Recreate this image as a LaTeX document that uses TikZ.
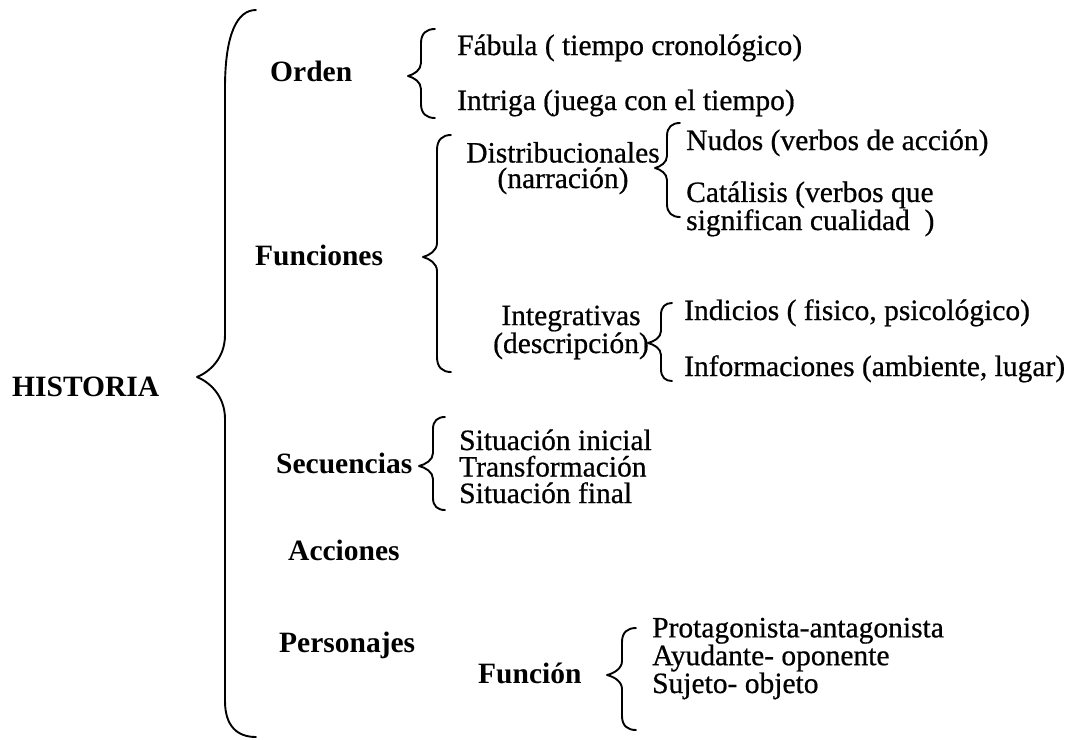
\documentclass[tikz,border=0pt]{standalone}
\usepackage{fontspec}
\setmainfont{Liberation Serif}[UprightFeatures={FakeBold=0.6}]
% #1 hook-end x, #2 stem x, #3 tip x, #4 top y, #5 tip y, #6 bottom y,
% #7 top hook height, #8 tip half height, #9 bottom hook height
\newcommand\drawbrace[9]{%
  \draw[bracestyle]
    (#1,#4) .. controls ({#2+0.4*(#1-#2)},#4) and (#2,{#4+0.3*#7}) .. (#2,{#4+#7})
    -- (#2,{#5-#8}) .. controls (#2,{#5-0.45*#8}) and ({#3+0.45*(#2-#3)},{#5-0.12*#8}) .. (#3,#5)
    .. controls ({#3+0.45*(#2-#3)},{#5+0.12*#8}) and (#2,{#5+0.45*#8}) .. (#2,{#5+#8})
    -- (#2,{#6-#9}) .. controls (#2,{#6-0.3*#9}) and ({#2+0.4*(#1-#2)},#6) .. (#1,#6);}
\begin{document}
\begin{tikzpicture}[x=1pt,y=-1pt,
  bracestyle/.style={line width=1.9pt, line cap=round, line join=round},
  txt/.style={font=\fontsize{29.5}{25.5}\selectfont, inner sep=0pt, anchor=base west, align=left},
  ctxt/.style={txt, anchor=base, align=center},
  hd/.style={txt, font=\fontsize{29.5}{25.5}\selectfont\bfseries}]
\fill[white] (0,0) rectangle (1070,739);
\useasboundingbox (0,0) rectangle (1070,739);

% braces
\drawbrace{256}{225}{197}{10}{377}{737}{78}{42}{36}
\drawbrace{435}{421}{408}{29}{76}{118}{14}{13}{14}
\drawbrace{451}{437}{423}{135}{257}{372}{15}{14}{15}
\drawbrace{680}{667}{655}{123}{168}{217}{13}{12}{13}
\drawbrace{672}{661}{648}{303}{343}{381}{12}{12}{12}
\drawbrace{445}{433}{419}{417}{466}{510}{12}{13}{12}
\drawbrace{636}{622}{607}{628}{675}{730}{14}{14}{14}

% root
\node[hd] (historia) at (12,396) {HISTORIA};

% Orden
\node[hd] (orden) at (270,81) {Orden};
\node[txt] (fabula) at (457,55) {Fábula ( tiempo cronológico)};
\node[txt] (intriga) at (457,110) {Intriga (juega con el tiempo)};

% Funciones
\node[hd] (funciones) at (255,265) {Funciones};
\node[ctxt] (distrib) at (563,188) {Distribucionales\\(narración)};
\node[txt] (nudos) at (686,150) {Nudos (verbos de acción)};
\node[txt] (catalisis) at (686,230) {Catálisis (verbos que\\significan cualidad~~)};
\node[ctxt] (integ) at (571,353) {Integrativas\\(descripción)};
\node[txt] (indicios) at (684,320) {Indicios ( fisico, psicológico)};
\node[txt] (informa) at (684,376) {Informaciones (ambiente, lugar)};

% Secuencias
\node[hd] (secuencias) at (276,473) {Secuencias};
\node[txt, font=\fontsize{29.5}{26.5}\selectfont] (sitini) at (459,503) {Situación inicial\\Transformación\\Situación final};

% Acciones
\node[hd] (acciones) at (288,560) {Acciones};

% Personajes
\node[hd] (personajes) at (279,652) {Personajes};
\node[hd] (funcion) at (478,683) {Función};
\node[txt] (prota) at (652,693) {Protagonista-antagonista\\Ayudante- oponente\\Sujeto- objeto};
\end{tikzpicture}
\end{document}
